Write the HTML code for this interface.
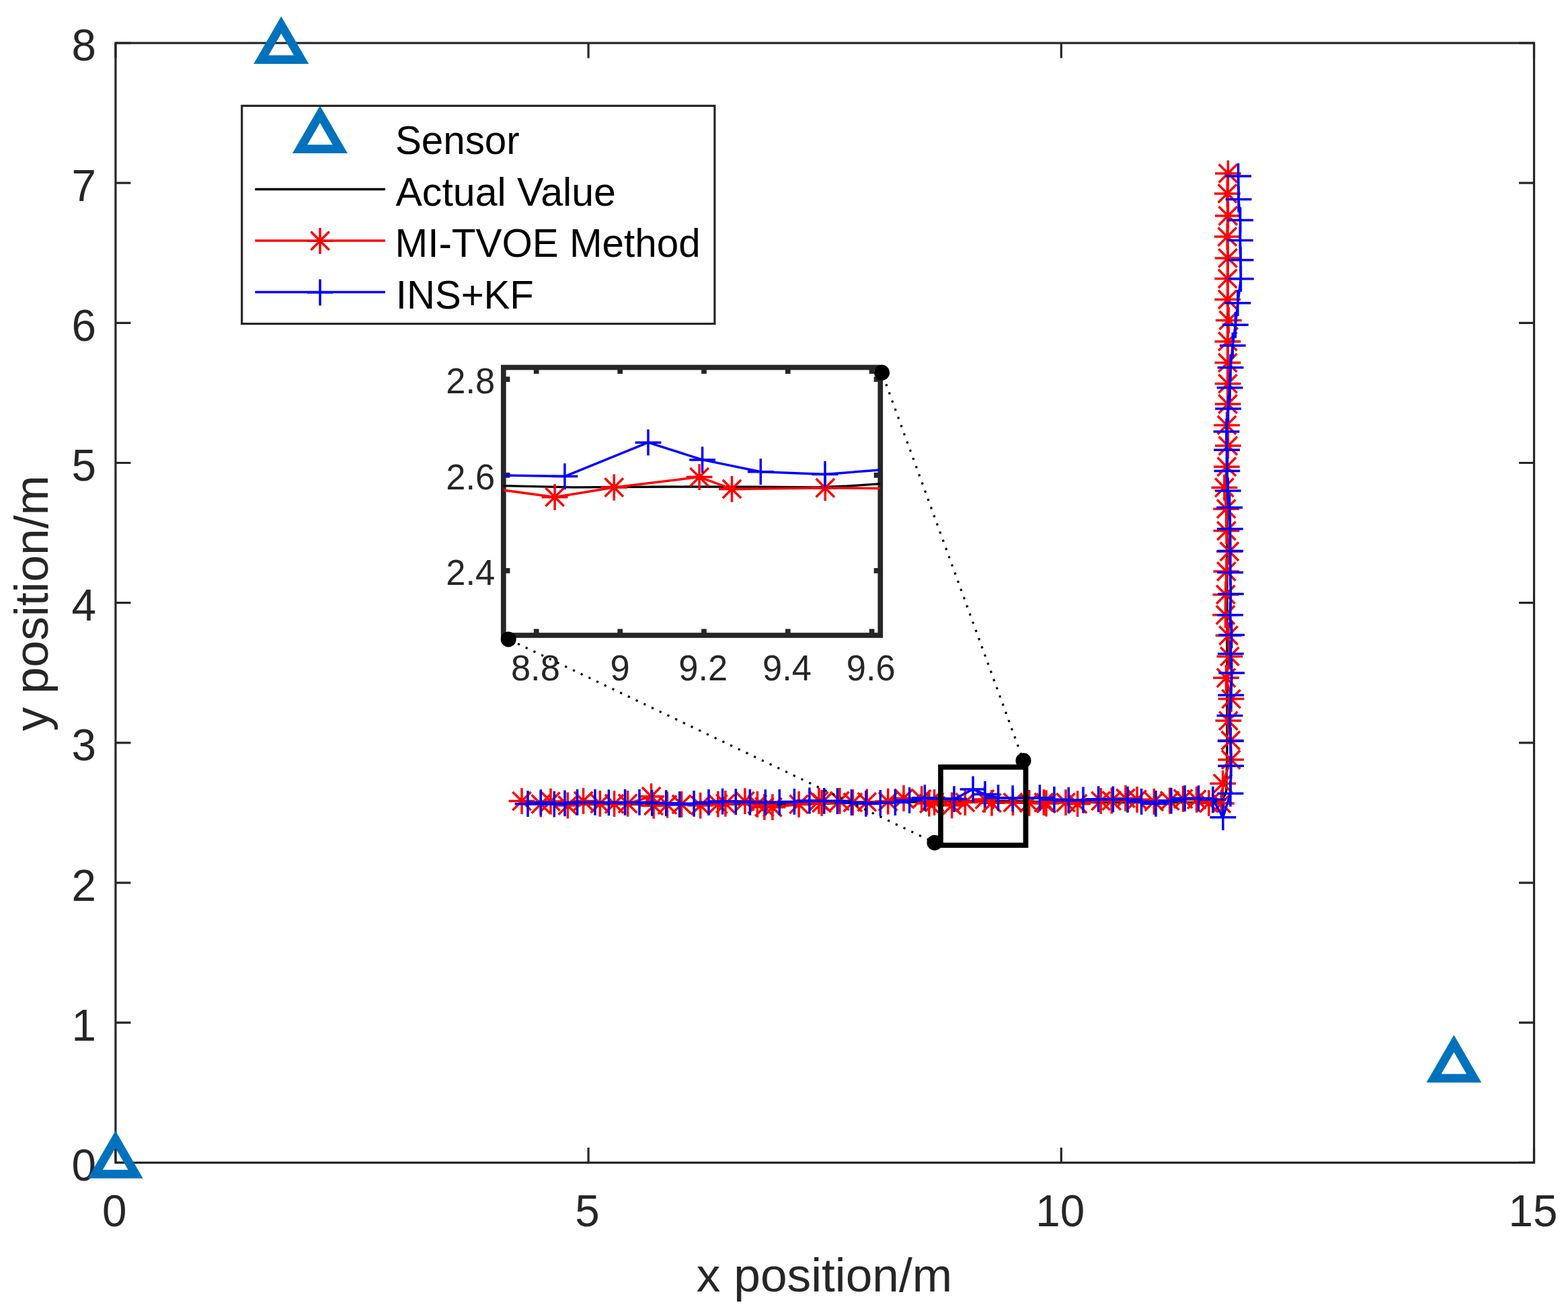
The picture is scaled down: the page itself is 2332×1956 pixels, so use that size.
<!DOCTYPE html>
<html lang="en"><head><meta charset="utf-8"><title>Trajectory estimation: MI-TVOE vs INS+KF</title>
<style>html,body{margin:0;padding:0;background:#fff;}body{width:2332px;height:1956px;overflow:hidden;}svg{display:block;}text{font-family:"Liberation Sans",Arial,Helvetica,sans-serif;}</style>
</head><body>
<svg width="2332" height="1956" viewBox="0 0 2332 1956">
<rect width="2332" height="1956" fill="#fff"/>
<g stroke="#262626" stroke-width="3.2" fill="none" stroke-linecap="butt">
<rect x="171.9" y="64.0" width="2109.6" height="1665.4"/>
<path d="M171.9 1729.4v-22.5M171.9 64.0v22.5M875.1 1729.4v-22.5M875.1 64.0v22.5M1578.3 1729.4v-22.5M1578.3 64.0v22.5M2281.5 1729.4v-22.5M2281.5 64.0v22.5M171.9 1729.4h22.5M2281.5 1729.4h-22.5M171.9 1521.2h22.5M2281.5 1521.2h-22.5M171.9 1313.1h22.5M2281.5 1313.1h-22.5M171.9 1104.9h22.5M2281.5 1104.9h-22.5M171.9 896.7h22.5M2281.5 896.7h-22.5M171.9 688.5h22.5M2281.5 688.5h-22.5M171.9 480.3h22.5M2281.5 480.3h-22.5M171.9 272.2h22.5M2281.5 272.2h-22.5M171.9 64.0h22.5M2281.5 64.0h-22.5"/>
</g>
<g fill="#262626" font-size="67.5px">
<text transform="translate(170.3 1823.9) scale(0.972 1)" text-anchor="middle">0</text>
<text transform="translate(873.5 1823.9) scale(0.972 1)" text-anchor="middle">5</text>
<text transform="translate(1576.7 1823.9) scale(0.972 1)" text-anchor="middle">10</text>
<text transform="translate(2279.9 1823.9) scale(0.972 1)" text-anchor="middle">15</text>
<text transform="translate(143 1755.8) scale(0.972 1)" text-anchor="end">0</text>
<text transform="translate(143 1547.6) scale(0.972 1)" text-anchor="end">1</text>
<text transform="translate(143 1339.5) scale(0.972 1)" text-anchor="end">2</text>
<text transform="translate(143 1131.3) scale(0.972 1)" text-anchor="end">3</text>
<text transform="translate(143 923.1) scale(0.972 1)" text-anchor="end">4</text>
<text transform="translate(143 714.9) scale(0.972 1)" text-anchor="end">5</text>
<text transform="translate(143 506.7) scale(0.972 1)" text-anchor="end">6</text>
<text transform="translate(143 298.6) scale(0.972 1)" text-anchor="end">7</text>
<text transform="translate(143 90.4) scale(0.972 1)" text-anchor="end">8</text>
</g>
<g fill="#262626" font-size="71.3px">
<text x="1226" y="1921.3" text-anchor="middle">x position/m</text>
<text transform="translate(71.4 897.3) rotate(-90)" text-anchor="middle">y position/m</text>
</g>
<path d="M418.2 37.0L448.1 88.7H388.3Z" fill="none" stroke="#0072BD" stroke-width="12.8" stroke-linejoin="miter" stroke-miterlimit="10"/>
<path d="M171.7 1694.7L201.5 1746.4H141.8Z" fill="none" stroke="#0072BD" stroke-width="12.8" stroke-linejoin="miter" stroke-miterlimit="10"/>
<path d="M2162.3 1552.2L2192.2 1603.9H2132.5Z" fill="none" stroke="#0072BD" stroke-width="12.8" stroke-linejoin="miter" stroke-miterlimit="10"/>
<path d="M780 1196.4L1170 1196.4L1350 1193L1456 1191.6L1521 1192L1611 1193.6L1800 1193.6Q1821 1193.2 1823.8 1176L1825 1114L1825 760L1825.8 640L1825.8 262" fill="none" stroke="#000" stroke-width="3.3" stroke-linejoin="round"/>
<polyline points="776.0,1191.6 804.3,1196.0 819.0,1192.1 844.3,1198.0 867.6,1191.4 892.4,1195.3 913.6,1195.7 933.6,1195.3 968.6,1184.7 972.1,1198.4 992.4,1197.1 1013.6,1196.4 1041.7,1198.1 1067.9,1196.1 1078.9,1195.4 1107.9,1191.7 1126.4,1196.4 1136.9,1200.3 1148.9,1200.7 1188.1,1196.4 1217.9,1191.4 1222.1,1194.3 1248.9,1191.4 1268.3,1193.6 1289.3,1192.9 1320.7,1192.1 1344.0,1187.4 1370.7,1188.6 1381.9,1195.0 1389.6,1193.3 1415.7,1197.9 1435.4,1193.6 1464.5,1189.0 1475.0,1194.3 1506.4,1193.6 1530.7,1194.3 1552.4,1193.6 1556.0,1195.0 1585.0,1193.6 1602.6,1195.7 1637.1,1191.4 1653.3,1191.0 1674.0,1187.4 1691.1,1189.3 1716.4,1192.4 1739.7,1191.1 1759.6,1188.3 1779.6,1189.3 1797.9,1194.6 1816.4,1195.0 1818.6,1165.4 1830.7,1130.0 1830.3,1101.4 1826.9,1072.1 1831.1,1039.6 1823.6,1008.3 1828.9,976.4 1827.1,945.3 1822.6,914.7 1822.9,884.4 1823.9,850.0 1828.4,820.3 1824.0,789.6 1823.7,756.9 1820.9,725.3 1824.4,694.3 1826.4,663.1 1824.6,632.4 1826.1,601.0 1826.1,570.7 1825.9,539.6 1825.9,507.9 1827.3,476.4 1825.7,445.5 1825.7,414.5 1826.1,383.9 1825.3,352.1 1826.4,321.0 1825.4,287.9 1826.4,257.9" fill="none" stroke="#FF0000" stroke-width="3.5" stroke-linejoin="round" />
<path d="M756.6 1191.6H795.4M776.0 1172.2V1211.0M762.3 1177.9L789.7 1205.3M762.3 1205.3L789.7 1177.9M784.9 1196.0H823.7M804.3 1176.6V1215.4M790.6 1182.3L818.0 1209.7M790.6 1209.7L818.0 1182.3M799.6 1192.1H838.4M819.0 1172.7V1211.5M805.3 1178.4L832.7 1205.8M805.3 1205.8L832.7 1178.4M824.9 1198.0H863.7M844.3 1178.6V1217.4M830.6 1184.3L858.0 1211.7M830.6 1211.7L858.0 1184.3M848.2 1191.4H887.0M867.6 1172.0V1210.8M853.9 1177.7L881.3 1205.1M853.9 1205.1L881.3 1177.7M873.0 1195.3H911.8M892.4 1175.9V1214.7M878.7 1181.6L906.1 1209.0M878.7 1209.0L906.1 1181.6M894.2 1195.7H933.0M913.6 1176.3V1215.1M899.9 1182.0L927.3 1209.4M899.9 1209.4L927.3 1182.0M914.2 1195.3H953.0M933.6 1175.9V1214.7M919.9 1181.6L947.3 1209.0M919.9 1209.0L947.3 1181.6M949.2 1184.7H988.0M968.6 1165.3V1204.1M954.9 1171.0L982.3 1198.4M954.9 1198.4L982.3 1171.0M952.7 1198.4H991.5M972.1 1179.0V1217.8M958.4 1184.7L985.8 1212.1M958.4 1212.1L985.8 1184.7M973.0 1197.1H1011.8M992.4 1177.7V1216.5M978.7 1183.4L1006.1 1210.8M978.7 1210.8L1006.1 1183.4M994.2 1196.4H1033.0M1013.6 1177.0V1215.8M999.9 1182.7L1027.3 1210.1M999.9 1210.1L1027.3 1182.7M1022.3 1198.1H1061.1M1041.7 1178.7V1217.5M1028.0 1184.4L1055.4 1211.8M1028.0 1211.8L1055.4 1184.4M1048.5 1196.1H1087.3M1067.9 1176.7V1215.5M1054.2 1182.4L1081.6 1209.8M1054.2 1209.8L1081.6 1182.4M1059.5 1195.4H1098.3M1078.9 1176.0V1214.8M1065.2 1181.7L1092.6 1209.1M1065.2 1209.1L1092.6 1181.7M1088.5 1191.7H1127.3M1107.9 1172.3V1211.1M1094.2 1178.0L1121.6 1205.4M1094.2 1205.4L1121.6 1178.0M1107.0 1196.4H1145.8M1126.4 1177.0V1215.8M1112.7 1182.7L1140.1 1210.1M1112.7 1210.1L1140.1 1182.7M1117.5 1200.3H1156.3M1136.9 1180.9V1219.7M1123.2 1186.6L1150.6 1214.0M1123.2 1214.0L1150.6 1186.6M1129.5 1200.7H1168.3M1148.9 1181.3V1220.1M1135.2 1187.0L1162.6 1214.4M1135.2 1214.4L1162.6 1187.0M1168.7 1196.4H1207.5M1188.1 1177.0V1215.8M1174.4 1182.7L1201.8 1210.1M1174.4 1210.1L1201.8 1182.7M1198.5 1191.4H1237.3M1217.9 1172.0V1210.8M1204.2 1177.7L1231.6 1205.1M1204.2 1205.1L1231.6 1177.7M1202.7 1194.3H1241.5M1222.1 1174.9V1213.7M1208.4 1180.6L1235.8 1208.0M1208.4 1208.0L1235.8 1180.6M1229.5 1191.4H1268.3M1248.9 1172.0V1210.8M1235.2 1177.7L1262.6 1205.1M1235.2 1205.1L1262.6 1177.7M1248.9 1193.6H1287.7M1268.3 1174.2V1213.0M1254.6 1179.9L1282.0 1207.3M1254.6 1207.3L1282.0 1179.9M1269.9 1192.9H1308.7M1289.3 1173.5V1212.3M1275.6 1179.2L1303.0 1206.6M1275.6 1206.6L1303.0 1179.2M1301.3 1192.1H1340.1M1320.7 1172.7V1211.5M1307.0 1178.4L1334.4 1205.8M1307.0 1205.8L1334.4 1178.4M1324.6 1187.4H1363.4M1344.0 1168.0V1206.8M1330.3 1173.7L1357.7 1201.1M1330.3 1201.1L1357.7 1173.7M1351.3 1188.6H1390.1M1370.7 1169.2V1208.0M1357.0 1174.9L1384.4 1202.3M1357.0 1202.3L1384.4 1174.9M1362.5 1195.0H1401.3M1381.9 1175.6V1214.4M1368.2 1181.3L1395.6 1208.7M1368.2 1208.7L1395.6 1181.3M1370.2 1193.3H1409.0M1389.6 1173.9V1212.7M1375.9 1179.6L1403.3 1207.0M1375.9 1207.0L1403.3 1179.6M1396.3 1197.9H1435.1M1415.7 1178.5V1217.3M1402.0 1184.2L1429.4 1211.6M1402.0 1211.6L1429.4 1184.2M1416.0 1193.6H1454.8M1435.4 1174.2V1213.0M1421.7 1179.9L1449.1 1207.3M1421.7 1207.3L1449.1 1179.9M1445.1 1189.0H1483.9M1464.5 1169.6V1208.4M1450.8 1175.3L1478.2 1202.7M1450.8 1202.7L1478.2 1175.3M1455.6 1194.3H1494.4M1475.0 1174.9V1213.7M1461.3 1180.6L1488.7 1208.0M1461.3 1208.0L1488.7 1180.6M1487.0 1193.6H1525.8M1506.4 1174.2V1213.0M1492.7 1179.9L1520.1 1207.3M1492.7 1207.3L1520.1 1179.9M1511.3 1194.3H1550.1M1530.7 1174.9V1213.7M1517.0 1180.6L1544.4 1208.0M1517.0 1208.0L1544.4 1180.6M1533.0 1193.6H1571.8M1552.4 1174.2V1213.0M1538.7 1179.9L1566.1 1207.3M1538.7 1207.3L1566.1 1179.9M1536.6 1195.0H1575.4M1556.0 1175.6V1214.4M1542.3 1181.3L1569.7 1208.7M1542.3 1208.7L1569.7 1181.3M1565.6 1193.6H1604.4M1585.0 1174.2V1213.0M1571.3 1179.9L1598.7 1207.3M1571.3 1207.3L1598.7 1179.9M1583.2 1195.7H1622.0M1602.6 1176.3V1215.1M1588.9 1182.0L1616.3 1209.4M1588.9 1209.4L1616.3 1182.0M1617.7 1191.4H1656.5M1637.1 1172.0V1210.8M1623.4 1177.7L1650.8 1205.1M1623.4 1205.1L1650.8 1177.7M1633.9 1191.0H1672.7M1653.3 1171.6V1210.4M1639.6 1177.3L1667.0 1204.7M1639.6 1204.7L1667.0 1177.3M1654.6 1187.4H1693.4M1674.0 1168.0V1206.8M1660.3 1173.7L1687.7 1201.1M1660.3 1201.1L1687.7 1173.7M1671.7 1189.3H1710.5M1691.1 1169.9V1208.7M1677.4 1175.6L1704.8 1203.0M1677.4 1203.0L1704.8 1175.6M1697.0 1192.4H1735.8M1716.4 1173.0V1211.8M1702.7 1178.7L1730.1 1206.1M1702.7 1206.1L1730.1 1178.7M1720.3 1191.1H1759.1M1739.7 1171.7V1210.5M1726.0 1177.4L1753.4 1204.8M1726.0 1204.8L1753.4 1177.4M1740.2 1188.3H1779.0M1759.6 1168.9V1207.7M1745.9 1174.6L1773.3 1202.0M1745.9 1202.0L1773.3 1174.6M1760.2 1189.3H1799.0M1779.6 1169.9V1208.7M1765.9 1175.6L1793.3 1203.0M1765.9 1203.0L1793.3 1175.6M1778.5 1194.6H1817.3M1797.9 1175.2V1214.0M1784.2 1180.9L1811.6 1208.3M1784.2 1208.3L1811.6 1180.9M1797.0 1195.0H1835.8M1816.4 1175.6V1214.4M1802.7 1181.3L1830.1 1208.7M1802.7 1208.7L1830.1 1181.3M1799.2 1165.4H1838.0M1818.6 1146.0V1184.8M1804.9 1151.7L1832.3 1179.1M1804.9 1179.1L1832.3 1151.7M1811.3 1130.0H1850.1M1830.7 1110.6V1149.4M1817.0 1116.3L1844.4 1143.7M1817.0 1143.7L1844.4 1116.3M1810.9 1101.4H1849.7M1830.3 1082.0V1120.8M1816.6 1087.7L1844.0 1115.1M1816.6 1115.1L1844.0 1087.7M1807.5 1072.1H1846.3M1826.9 1052.7V1091.5M1813.2 1058.4L1840.6 1085.8M1813.2 1085.8L1840.6 1058.4M1811.7 1039.6H1850.5M1831.1 1020.2V1059.0M1817.4 1025.9L1844.8 1053.3M1817.4 1053.3L1844.8 1025.9M1804.2 1008.3H1843.0M1823.6 988.9V1027.7M1809.9 994.6L1837.3 1022.0M1809.9 1022.0L1837.3 994.6M1809.5 976.4H1848.3M1828.9 957.0V995.8M1815.2 962.7L1842.6 990.1M1815.2 990.1L1842.6 962.7M1807.7 945.3H1846.5M1827.1 925.9V964.7M1813.4 931.6L1840.8 959.0M1813.4 959.0L1840.8 931.6M1803.2 914.7H1842.0M1822.6 895.3V934.1M1808.9 901.0L1836.3 928.4M1808.9 928.4L1836.3 901.0M1803.5 884.4H1842.3M1822.9 865.0V903.8M1809.2 870.7L1836.6 898.1M1809.2 898.1L1836.6 870.7M1804.5 850.0H1843.3M1823.9 830.6V869.4M1810.2 836.3L1837.6 863.7M1810.2 863.7L1837.6 836.3M1809.0 820.3H1847.8M1828.4 800.9V839.7M1814.7 806.6L1842.1 834.0M1814.7 834.0L1842.1 806.6M1804.6 789.6H1843.4M1824.0 770.2V809.0M1810.3 775.9L1837.7 803.3M1810.3 803.3L1837.7 775.9M1804.3 756.9H1843.1M1823.7 737.5V776.3M1810.0 743.2L1837.4 770.6M1810.0 770.6L1837.4 743.2M1801.5 725.3H1840.3M1820.9 705.9V744.7M1807.2 711.6L1834.6 739.0M1807.2 739.0L1834.6 711.6M1805.0 694.3H1843.8M1824.4 674.9V713.7M1810.7 680.6L1838.1 708.0M1810.7 708.0L1838.1 680.6M1807.0 663.1H1845.8M1826.4 643.7V682.5M1812.7 649.4L1840.1 676.8M1812.7 676.8L1840.1 649.4M1805.2 632.4H1844.0M1824.6 613.0V651.8M1810.9 618.7L1838.3 646.1M1810.9 646.1L1838.3 618.7M1806.7 601.0H1845.5M1826.1 581.6V620.4M1812.4 587.3L1839.8 614.7M1812.4 614.7L1839.8 587.3M1806.7 570.7H1845.5M1826.1 551.3V590.1M1812.4 557.0L1839.8 584.4M1812.4 584.4L1839.8 557.0M1806.5 539.6H1845.3M1825.9 520.2V559.0M1812.2 525.9L1839.6 553.3M1812.2 553.3L1839.6 525.9M1806.5 507.9H1845.3M1825.9 488.5V527.3M1812.2 494.2L1839.6 521.6M1812.2 521.6L1839.6 494.2M1807.9 476.4H1846.7M1827.3 457.0V495.8M1813.6 462.7L1841.0 490.1M1813.6 490.1L1841.0 462.7M1806.3 445.5H1845.1M1825.7 426.1V464.9M1812.0 431.8L1839.4 459.2M1812.0 459.2L1839.4 431.8M1806.3 414.5H1845.1M1825.7 395.1V433.9M1812.0 400.8L1839.4 428.2M1812.0 428.2L1839.4 400.8M1806.7 383.9H1845.5M1826.1 364.5V403.3M1812.4 370.2L1839.8 397.6M1812.4 397.6L1839.8 370.2M1805.9 352.1H1844.7M1825.3 332.7V371.5M1811.6 338.4L1839.0 365.8M1811.6 365.8L1839.0 338.4M1807.0 321.0H1845.8M1826.4 301.6V340.4M1812.7 307.3L1840.1 334.7M1812.7 334.7L1840.1 307.3M1806.0 287.9H1844.8M1825.4 268.5V307.3M1811.7 274.2L1839.1 301.6M1811.7 301.6L1839.1 274.2M1807.0 257.9H1845.8M1826.4 238.5V277.3M1812.7 244.2L1840.1 271.6M1812.7 271.6L1840.1 244.2" stroke="#FF0000" stroke-width="3.5" fill="none"/>
<polyline points="785.0,1195.7 804.3,1193.6 824.3,1196.2 840.0,1194.9 858.6,1193.4 885.0,1193.4 905.4,1193.9 929.6,1193.4 951.0,1193.4 969.7,1194.3 990.7,1194.7 1010.7,1196.6 1032.1,1195.3 1054.0,1193.4 1074.6,1192.1 1094.3,1192.6 1115.4,1193.3 1138.3,1193.6 1159.3,1193.3 1181.4,1192.4 1203.9,1191.0 1225.7,1191.4 1245.4,1191.6 1266.4,1193.7 1287.9,1195.4 1309.3,1194.3 1331.4,1193.6 1352.6,1190.4 1375.4,1186.7 1399.0,1188.0 1419.0,1188.6 1447.1,1174.0 1465.0,1181.4 1484.6,1186.7 1506.1,1187.6 1525.5,1187.0 1546.4,1186.7 1567.9,1189.3 1589.3,1190.4 1611.0,1190.0 1633.6,1188.7 1655.4,1188.9 1677.1,1189.3 1697.6,1192.4 1719.0,1195.4 1741.9,1191.1 1762.1,1187.6 1782.6,1187.6 1803.9,1189.3 1818.9,1215.7 1830.0,1180.3 1830.7,1139.3 1830.3,1102.3 1829.0,1064.6 1830.7,1033.9 1831.7,1001.0 1830.3,972.6 1831.7,944.6 1829.6,914.7 1830.4,883.6 1829.7,851.4 1829.7,819.6 1829.4,786.7 1828.7,755.0 1826.3,730.0 1824.9,700.4 1824.6,669.3 1824.0,642.1 1826.6,608.1 1829.1,576.7 1830.1,546.7 1833.3,513.9 1837.4,483.3 1840.9,450.7 1845.4,414.7 1845.1,386.7 1844.4,357.4 1844.6,327.6 1842.1,296.4 1841.6,262.1" fill="none" stroke="#0000FF" stroke-width="3.5" stroke-linejoin="round" />
<path d="M765.6 1195.7H804.4M785.0 1176.3V1215.1M784.9 1193.6H823.7M804.3 1174.2V1213.0M804.9 1196.2H843.7M824.3 1176.8V1215.6M820.6 1194.9H859.4M840.0 1175.5V1214.3M839.2 1193.4H878.0M858.6 1174.0V1212.8M865.6 1193.4H904.4M885.0 1174.0V1212.8M886.0 1193.9H924.8M905.4 1174.5V1213.3M910.2 1193.4H949.0M929.6 1174.0V1212.8M931.6 1193.4H970.4M951.0 1174.0V1212.8M950.3 1194.3H989.1M969.7 1174.9V1213.7M971.3 1194.7H1010.1M990.7 1175.3V1214.1M991.3 1196.6H1030.1M1010.7 1177.2V1216.0M1012.7 1195.3H1051.5M1032.1 1175.9V1214.7M1034.6 1193.4H1073.4M1054.0 1174.0V1212.8M1055.2 1192.1H1094.0M1074.6 1172.7V1211.5M1074.9 1192.6H1113.7M1094.3 1173.2V1212.0M1096.0 1193.3H1134.8M1115.4 1173.9V1212.7M1118.9 1193.6H1157.7M1138.3 1174.2V1213.0M1139.9 1193.3H1178.7M1159.3 1173.9V1212.7M1162.0 1192.4H1200.8M1181.4 1173.0V1211.8M1184.5 1191.0H1223.3M1203.9 1171.6V1210.4M1206.3 1191.4H1245.1M1225.7 1172.0V1210.8M1226.0 1191.6H1264.8M1245.4 1172.2V1211.0M1247.0 1193.7H1285.8M1266.4 1174.3V1213.1M1268.5 1195.4H1307.3M1287.9 1176.0V1214.8M1289.9 1194.3H1328.7M1309.3 1174.9V1213.7M1312.0 1193.6H1350.8M1331.4 1174.2V1213.0M1333.2 1190.4H1372.0M1352.6 1171.0V1209.8M1356.0 1186.7H1394.8M1375.4 1167.3V1206.1M1379.6 1188.0H1418.4M1399.0 1168.6V1207.4M1399.6 1188.6H1438.4M1419.0 1169.2V1208.0M1427.7 1174.0H1466.5M1447.1 1154.6V1193.4M1445.6 1181.4H1484.4M1465.0 1162.0V1200.8M1465.2 1186.7H1504.0M1484.6 1167.3V1206.1M1486.7 1187.6H1525.5M1506.1 1168.2V1207.0M1506.1 1187.0H1544.9M1525.5 1167.6V1206.4M1527.0 1186.7H1565.8M1546.4 1167.3V1206.1M1548.5 1189.3H1587.3M1567.9 1169.9V1208.7M1569.9 1190.4H1608.7M1589.3 1171.0V1209.8M1591.6 1190.0H1630.4M1611.0 1170.6V1209.4M1614.2 1188.7H1653.0M1633.6 1169.3V1208.1M1636.0 1188.9H1674.8M1655.4 1169.5V1208.3M1657.7 1189.3H1696.5M1677.1 1169.9V1208.7M1678.2 1192.4H1717.0M1697.6 1173.0V1211.8M1699.6 1195.4H1738.4M1719.0 1176.0V1214.8M1722.5 1191.1H1761.3M1741.9 1171.7V1210.5M1742.7 1187.6H1781.5M1762.1 1168.2V1207.0M1763.2 1187.6H1802.0M1782.6 1168.2V1207.0M1784.5 1189.3H1823.3M1803.9 1169.9V1208.7M1799.5 1215.7H1838.3M1818.9 1196.3V1235.1M1810.6 1180.3H1849.4M1830.0 1160.9V1199.7M1811.3 1139.3H1850.1M1830.7 1119.9V1158.7M1810.9 1102.3H1849.7M1830.3 1082.9V1121.7M1809.6 1064.6H1848.4M1829.0 1045.2V1084.0M1811.3 1033.9H1850.1M1830.7 1014.5V1053.3M1812.3 1001.0H1851.1M1831.7 981.6V1020.4M1810.9 972.6H1849.7M1830.3 953.2V992.0M1812.3 944.6H1851.1M1831.7 925.2V964.0M1810.2 914.7H1849.0M1829.6 895.3V934.1M1811.0 883.6H1849.8M1830.4 864.2V903.0M1810.3 851.4H1849.1M1829.7 832.0V870.8M1810.3 819.6H1849.1M1829.7 800.2V839.0M1810.0 786.7H1848.8M1829.4 767.3V806.1M1809.3 755.0H1848.1M1828.7 735.6V774.4M1806.9 730.0H1845.7M1826.3 710.6V749.4M1805.5 700.4H1844.3M1824.9 681.0V719.8M1805.2 669.3H1844.0M1824.6 649.9V688.7M1804.6 642.1H1843.4M1824.0 622.7V661.5M1807.2 608.1H1846.0M1826.6 588.7V627.5M1809.7 576.7H1848.5M1829.1 557.3V596.1M1810.7 546.7H1849.5M1830.1 527.3V566.1M1813.9 513.9H1852.7M1833.3 494.5V533.3M1818.0 483.3H1856.8M1837.4 463.9V502.7M1821.5 450.7H1860.3M1840.9 431.3V470.1M1826.0 414.7H1864.8M1845.4 395.3V434.1M1825.7 386.7H1864.5M1845.1 367.3V406.1M1825.0 357.4H1863.8M1844.4 338.0V376.8M1825.2 327.6H1864.0M1844.6 308.2V347.0M1822.7 296.4H1861.5M1842.1 277.0V315.8M1822.2 262.1H1861.0M1841.6 242.7V281.5" stroke="#0000FF" stroke-width="3.5" fill="none"/>
<rect x="1399.0" y="1141.0" width="126.5" height="116.3" fill="none" stroke="#000" stroke-width="7.7"/>
<rect x="748.8" y="546.5" width="560.5" height="398.5" fill="#fff" stroke="none"/>
<clipPath id="ic"><rect x="748.8" y="546.5" width="560.5" height="398.5"/></clipPath>
<g stroke="#262626" stroke-width="7.7" fill="none">
<rect x="748.8" y="546.5" width="560.5" height="398.5"/>
<path d="M797.7 945.0v-9.6M797.7 546.5v9.6M922.2 945.0v-9.6M922.2 546.5v9.6M1047.0 945.0v-9.6M1047.0 546.5v9.6M1171.8 945.0v-9.6M1171.8 546.5v9.6M1296.6 945.0v-9.6M1296.6 546.5v9.6M748.8 564.2h9.6M1309.3 564.2h-9.6M748.8 706.9h9.6M1309.3 706.9h-9.6M748.8 848.9h9.6M1309.3 848.9h-9.6"/>
</g>
<g clip-path="url(#ic)">
<polyline points="748.8,722.6 852.6,724.9 1000.0,724.0 1130.0,724.2 1214.3,725.0 1260.0,723.0 1309.3,719.7" fill="none" stroke="#000" stroke-width="3.3" stroke-linejoin="round" />
<polyline points="748.8,729.1 825.1,739.4 913.3,725.0 1040.1,709.6 1088.5,727.4 1227.3,725.7 1309.3,726.4" fill="none" stroke="#FF0000" stroke-width="3.5" stroke-linejoin="round" />
<polyline points="748.8,706.9 839.9,708.6 964.0,658.2 1044.6,683.9 1131.3,701.7 1227.0,705.5 1309.3,699.0" fill="none" stroke="#0000FF" stroke-width="3.5" stroke-linejoin="round" />
</g>
<path d="M805.7 739.4H844.5M825.1 720.0V758.8M811.4 725.7L838.8 753.1M811.4 753.1L838.8 725.7M893.9 725.0H932.7M913.3 705.6V744.4M899.6 711.3L927.0 738.7M899.6 738.7L927.0 711.3M1020.7 709.6H1059.5M1040.1 690.2V729.0M1026.4 695.9L1053.8 723.3M1026.4 723.3L1053.8 695.9M1069.1 727.4H1107.9M1088.5 708.0V746.8M1074.8 713.7L1102.2 741.1M1074.8 741.1L1102.2 713.7M1207.9 725.7H1246.7M1227.3 706.3V745.1M1213.6 712.0L1241.0 739.4M1213.6 739.4L1241.0 712.0" stroke="#FF0000" stroke-width="3.5" fill="none"/>
<path d="M820.5 708.6H859.3M839.9 689.2V728.0M944.6 658.2H983.4M964.0 638.8V677.6M1025.2 683.9H1064.0M1044.6 664.5V703.3M1111.9 701.7H1150.7M1131.3 682.3V721.1M1207.6 705.5H1246.4M1227.0 686.1V724.9" stroke="#0000FF" stroke-width="3.5" fill="none"/>
<g fill="#262626" font-size="54px">
<text transform="translate(796.4 1011.8) scale(0.972 1)" text-anchor="middle">8.8</text>
<text transform="translate(922.0 1011.8) scale(0.972 1)" text-anchor="middle">9</text>
<text transform="translate(1045.7 1011.8) scale(0.972 1)" text-anchor="middle">9.2</text>
<text transform="translate(1170.5 1011.8) scale(0.972 1)" text-anchor="middle">9.4</text>
<text transform="translate(1295.3 1011.8) scale(0.972 1)" text-anchor="middle">9.6</text>
<text transform="translate(736.2 585.3) scale(0.972 1)" text-anchor="end">2.8</text>
<text transform="translate(736.2 728.0) scale(0.972 1)" text-anchor="end">2.6</text>
<text transform="translate(736.2 870.0) scale(0.972 1)" text-anchor="end">2.4</text>
</g>
<g stroke="#000" stroke-width="3.2" stroke-dasharray="3.2 9.772" fill="none">
<path d="M1311.6 554.3L1522 1131.4" stroke-dashoffset="7.8"/>
<path d="M756.2 950.9L1390 1253.4" stroke-dashoffset="10.6"/>
</g>
<circle cx="1311.6" cy="554.3" r="11.5" fill="#000"/>
<circle cx="1522" cy="1131.4" r="11.5" fill="#000"/>
<circle cx="756.2" cy="950.9" r="11.5" fill="#000"/>
<circle cx="1390" cy="1253.4" r="11.5" fill="#000"/>
<rect x="359.7" y="157.4" width="703.2" height="324.2" fill="#fff" stroke="none"/>
<path d="M475.9 170.0L505.8 221.7H446.0Z" fill="none" stroke="#0072BD" stroke-width="12.8" stroke-linejoin="miter" stroke-miterlimit="10"/>
<rect x="359.7" y="157.4" width="703.2" height="324.2" fill="none" stroke="#262626" stroke-width="3.2"/>
<path d="M379.3 281.4H572.9" stroke="#000" stroke-width="3.5"/>
<path d="M379.3 357.9H572.9M456.6 358.3H495.4M476.0 338.9V377.7M462.3 344.6L489.7 372.0M462.3 372.0L489.7 344.6" stroke="#FF0000" stroke-width="3.5" fill="none"/>
<path d="M379.3 434.6H572.9M456.6 435.0H495.4M476.0 415.6V454.4" stroke="#0000FF" stroke-width="3.5" fill="none"/>
<g fill="#000" font-size="59px">
<text transform="translate(588 229.4) scale(0.9875 1)">Sensor</text>
<text transform="translate(588.4 306) scale(1.002 1)">Actual Value</text>
<text transform="translate(587.6 381.8) scale(0.9894 1)">MI-TVOE Method</text>
<text transform="translate(588.8 458.8) scale(0.985 1)">INS+KF</text>
</g>
</svg>
</body></html>
